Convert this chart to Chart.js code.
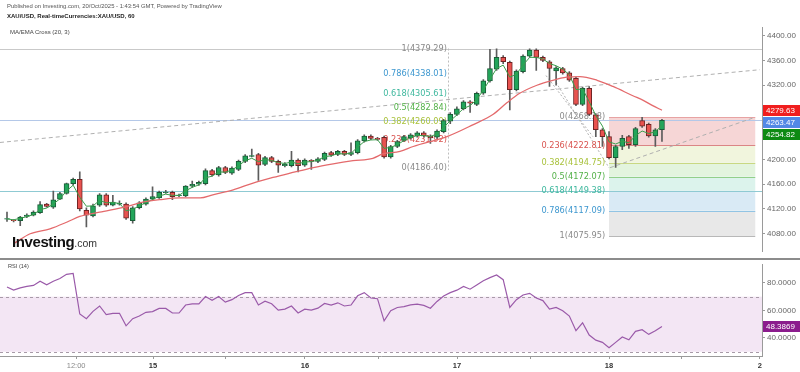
<!DOCTYPE html>
<html><head><meta charset="utf-8">
<script src="https://cdn.jsdelivr.net/npm/chart.js@4.4.1/dist/chart.umd.min.js"></script>
<style>
html,body{margin:0;padding:0;background:#fff}
body{width:800px;height:372px;overflow:hidden;position:relative;font-family:"Liberation Sans",Arial,sans-serif}
.box{position:absolute;left:0}
.t{position:absolute;white-space:nowrap;z-index:5}
</style></head><body>
<div class="t" style="left:7px;top:3px;font-size:5.9px;color:#555">Published on Investing.com, 20/Oct/2025 - 1:43:54 GMT, Powered by TradingView</div>
<div class="t" style="left:7px;top:13px;font-size:6px;font-weight:bold;color:#222">XAU/USD, Real-timeCurrencies:XAU/USD, 60</div>
<div class="t" style="left:10px;top:29px;font-size:6px;color:#444">MA/EMA Cross (20, 3)</div>
<div class="t" style="left:12px;top:233px;color:#111"><span style="font-size:15px;font-weight:bold;letter-spacing:-0.4px">Investing</span><span style="font-size:10.5px;color:#333">.com</span></div>
<div class="t" style="left:8px;top:263px;font-size:5.6px;color:#444">RSI (14)</div>
<div class="box" style="top:0;width:800px;height:258px"><canvas id="c1" width="800" height="258"></canvas></div>
<div class="box" style="top:258px;width:800px;height:114px"><canvas id="c2" width="800" height="114"></canvas></div>
<div class="t" style="left:0;top:258px;width:800px;height:2px;background:#8c8c8c"></div>
<script>
// ---------- data (hourly candles, index = candle number) ----------
const opens = [
4103.5,4101.5,4101,4108,4110,4114,4128,4123,4136,4145,
4161,4168,4118,4109,4126,4143,4126,4128,4128,4101,
4122,4128,4136,4138,4146.5,4147,4141.5,4141,4157,4160,
4161,4182,4175,4187,4178,4184,4197,4205,4208,4192,
4203,4197,4190,4190,4199,4191,4198.5,4197,4200,4211,
4208,4213,4208,4211,4230,4238,4234,4236,4204,4221,
4231,4235,4238,4243,4238,4236,4245,4262,4273,4282,
4293,4289,4307,4327,4346,4365,4357,4313,4342,4367,
4377,4365,4358,4343,4347,4340,4331,4289,4315,4272,
4248,4237,4203,4221,4237,4224,4263,4257,4238,4248];
const highs = [
4115,4103,4108,4112,4117,4132,4129,4149,4147,4162,
4170,4180,4122,4128,4145,4145,4142,4133,4130,4124,
4132,4138,4156,4149,4150,4149,4144,4158,4165,4165,
4185,4184,4189,4189,4188,4199,4208,4217,4210,4205,
4205,4199,4195,4213,4201,4201,4200,4203,4212,4213,
4215,4215,4227,4232,4240,4240,4236,4238,4223,4231,
4239,4242,4245,4245,4240,4248,4265,4276,4285,4295,
4295,4309,4329,4378,4379,4368,4359,4345,4369,4379,
4379,4367,4360,4350,4349,4342,4333,4317,4318,4274,
4250,4245,4223,4239,4239,4252,4268,4259,4250,4265];
const lows = [
4100,4099,4093,4106,4109,4113,4123,4121,4135,4144,
4159,4117,4091,4107,4124,4124,4125,4126,4103,4097,
4120,4126,4135,4137,4145,4135,4140,4140,4155,4158,
4159,4173,4173,4177,4176,4182,4195,4204,4166,4190,
4195,4179,4188,4188,4180,4189,4184,4195,4198,4205,
4206,4206,4206,4209,4228,4232,4231,4202,4202,4219,
4229,4233,4236,4236,4226,4234,4243,4258,4271,4280,
4276,4287,4305,4325,4344,4355,4280,4311,4340,4365,
4344,4358,4318,4320,4338,4326,4287,4287,4271,4237,
4221,4201,4187,4216,4218,4221,4252,4236,4221,4229];
const closes = [
4104.5,4101,4107,4110,4115,4127,4124,4135,4145,4161,
4168,4120,4110,4125,4143,4126,4131,4129,4105,4122,
4130,4136,4140,4147,4147.5,4140,4142.5,4157,4160,4163,
4182,4175,4187,4179,4186,4197,4206,4206.5,4191,4203,
4197,4191,4192,4199,4190,4199,4197,4201,4210,4207,
4213,4208,4211,4230,4238,4234,4232.5,4204,4221,4229,
4237,4240,4243,4238,4235,4246,4263,4273,4282,4293,
4291,4307,4327,4347,4365,4358,4313,4343,4367,4377,
4365,4360,4347,4348,4340,4328,4289,4315,4273,4248,
4237,4203,4221,4234,4224,4250,4254,4238,4248,4263.47];
const ema3 = [
4104,4102.5,4105,4107.5,4111,4119,4121.5,4128,4136.5,4149,
4158.5,4139,4124.5,4125,4134,4130,4130.5,4129,4117,4119.5,
4125,4130.5,4135,4141,4144,4142,4142,4149.5,4155,4159,
4170.5,4173,4180,4179.5,4183,4190,4198,4202,4196.5,4200,
4198.5,4195,4193.5,4196,4193,4196,4196.5,4199,4204.5,4206,
4209.5,4209,4210,4220,4229,4231.5,4232,4218,4219.5,4224,
4230.5,4235,4239,4238.5,4237,4241.5,4252,4262.5,4272,4282.5,
4287,4297,4312,4329.5,4347,4352.5,4333,4338,4352.5,4365,
4365,4362.5,4355,4351.5,4346,4337,4313,4314,4293.5,4271,
4254,4228.5,4225,4229.5,4227,4238.5,4246,4242,4245,4254.82];
const ma20Idx = [1,3.5,6.5,9.1,11,14,18.1,20.1,23.1,26.1,29.2,31.1,34.2,37.2,40.2,43.2,46.3,49.3,52.3,55.3,56.8,59.4,61.4,66.5,70.4,73.5,75.6,77.5,80.1,82.5,84.6,86.6,89.2,91.6,94.6,96.1,97.6,99];
const ma20Vals = [4064,4080,4088,4099,4108,4115,4124,4130,4135,4138,4138,4143,4151,4162,4171,4179,4187,4193,4198,4202,4209,4213,4221,4237,4256,4273,4292,4307,4320,4328,4333,4334,4328,4318,4303,4296,4287,4279.63];
const rsi14 = [
77.0,74.7,76.3,77.4,78.1,81.2,78.6,81.2,83.2,86.2,
86.9,57.4,54.0,59.3,63.2,57.0,57.9,57.9,48.8,54.0,
55.9,58.6,59.1,61.4,61.4,58.1,58.1,63.9,64.8,64.8,
70.1,67.4,70.1,66.0,67.8,70.8,72.9,72.9,63.9,66.7,
64.8,60.2,60.9,63.2,58.1,60.9,60.2,61.6,65.0,63.9,
65.5,63.2,63.9,70.6,72.9,69.0,68.5,52.4,59.8,62.1,
62.8,64.0,64.6,63.6,61.6,66.5,70.5,72.9,74.7,77.4,
75.4,78.5,81.5,83.8,85.7,82.3,62.1,67.8,71.2,72.4,
69.0,67.1,60.9,62.1,59.8,55.9,45.3,51.0,42.1,38.4,
36.8,32.9,36.8,40.7,38.6,44.8,46.0,42.6,45.3,48.3869];
const xTickPos = [10.45,22.07,45.04,68.02,91.0,113.8];
const xTickLabels = ['12:00','15','16','17','18','2'];
const xMinorPos = [33.1,56.1,79.1,102.0];
const priceTicks = [4080,4120,4160,4200,4240,4280,4320,4360,4400];
const rsiTicks = [40,60,80];
const fibRatios = ['0','0.236','0.382','0.5','0.618','0.786','1'];
const fibA = [4186.40,4231.92,4260.09,4282.84,4305.61,4338.01,4379.29];
const fibB = [4268.18,4222.81,4194.75,4172.07,4149.38,4117.09,4075.95];
const lastPrice = 4263.47, lastMA = 4279.63, lastEMA = 4254.82, lastRSI = 48.3869;
// drawing anchors (candle index, price)
const fibAAnchor = 66.6, fibALabelAt = 66.5;
const fibBStart = 91.0, fibBEnd = 113.1, fibBLabelAt = 90.4;
const trendLines = [
  {a:[-1.06,4227.5], b:[113.8,4345.1], dash:[4,3]},
  {a:[91.14,4186.7], b:[113.06,4268.2], dash:[4,3]},
  {a:[82.98,4324.7], b:[91.0,4186.7], dash:[2,2]},
  {a:[81.47,4335.7], b:[88.57,4236.9], dash:[2,2]}
];

// ---------- styling ----------
Chart.defaults.font.family = '"Liberation Sans", Arial, sans-serif';
Chart.defaults.animation = false;
const X_MIN = -1.058, X_MAX = 114.12;
const UP = '#22a55a', UP_B = '#1a5c37', DN = '#e8524f', DN_B = '#6e2323';
const levelText = ['#8a8a8a','#d9534f','#a9c23c','#52b047','#3fb89e','#3d97cf','#8a8a8a'];
const levelLine = ['#e7a3a3','#db8585','#c9d882','#92cf8a','#80cbc4','#92c4e4','#b8b8b8'];
const bandFill = ['#f6d6d6','#f1f5dd','#e3f4de','#dcf3ec','#d9eaf5','#e8e8e8'];

const idx = closes.map((_, i) => i);
const isUp = i => closes[i] >= opens[i];

function hline(ctx, x0, x1, y, col){
  const yy = Math.round(y) + 0.5;
  ctx.strokeStyle = col; ctx.lineWidth = 1; ctx.setLineDash([]);
  ctx.beginPath(); ctx.moveTo(x0, yy); ctx.lineTo(x1, yy); ctx.stroke();
}
function tag(ctx, yc, text, bg, x0, x1){
  ctx.fillStyle = bg; ctx.fillRect(x0, Math.round(yc - 5.5), x1 - x0, 11);
  ctx.fillStyle = '#fff'; ctx.font = '8px "Liberation Sans", Arial';
  ctx.textAlign = 'left'; ctx.textBaseline = 'middle';
  ctx.fillText(text, x0 + 3, yc + 0.5);
}

const mainOverlay = {
  id: 'mainOverlay',
  beforeDatasetsDraw(chart){
    const {ctx, chartArea: a, scales: {x, y}} = chart;
    const X = v => x.getPixelForValue(v), Y = v => y.getPixelForValue(v);
    ctx.save();
    ctx.beginPath(); ctx.rect(a.left, a.top, a.right - a.left, a.bottom - a.top); ctx.clip();
    const bx0 = X(fibBStart), bx1 = X(fibBEnd);
    for (let k = 0; k < 6; k++){
      ctx.fillStyle = bandFill[k];
      ctx.fillRect(bx0, Y(fibB[k]), bx1 - bx0, Y(fibB[k+1]) - Y(fibB[k]));
    }
    for (let k = 0; k < 7; k++) hline(ctx, bx0, bx1, Y(fibB[k]), levelLine[k]);
    hline(ctx, a.left, a.right, Y(fibA[6]), '#c9c9c9');
    hline(ctx, a.left, a.right, Y(fibB[4]), '#8fcad3');
    hline(ctx, a.left, a.right, Y(lastPrice), '#b4c8e8');
    ctx.strokeStyle = '#b0b0b0'; ctx.lineWidth = 1;
    for (const t of trendLines){
      ctx.setLineDash(t.dash);
      ctx.beginPath(); ctx.moveTo(X(t.a[0]), Y(t.a[1])); ctx.lineTo(X(t.b[0]), Y(t.b[1])); ctx.stroke();
    }
    ctx.setLineDash([2,2]); ctx.strokeStyle = '#bdbdbd';
    const vx = Math.round(X(fibAAnchor)) + 0.5;
    ctx.beginPath(); ctx.moveTo(vx, Y(fibA[6])); ctx.lineTo(vx, Y(fibA[0]) + 2); ctx.stroke();
    ctx.setLineDash([]);
    ctx.font = '8.2px "DejaVu Sans", Verdana, sans-serif';
    ctx.textAlign = 'right'; ctx.textBaseline = 'middle';
    const lxA = X(fibALabelAt), lxB = X(fibBLabelAt);
    for (let k = 0; k < 7; k++){
      ctx.fillStyle = levelText[k];
      ctx.fillText(fibRatios[k] + '(' + fibA[k].toFixed(2) + ')', lxA, Y(fibA[k]));
      ctx.fillText(fibRatios[k] + '(' + fibB[k].toFixed(2) + ')', lxB, Y(fibB[k]));
    }
    ctx.restore();
  },
  afterDraw(chart){
    const {ctx, chartArea: a, scales: {y}} = chart;
    const items = [[lastMA, '#f01e1e'], [lastPrice, '#5288e6'], [lastEMA, '#0d8a12']];
    let prevBottom = -1e9;
    ctx.save();
    for (const [v, col] of items){
      let yc = y.getPixelForValue(v);
      if (yc - 5.5 < prevBottom + 1) yc = prevBottom + 1 + 5.5;
      tag(ctx, yc, v.toFixed(2), col, a.right + 1, 800);
      prevBottom = yc + 5.5;
    }
    ctx.restore();
  }
};

const rsiOverlay = {
  id: 'rsiOverlay',
  beforeDatasetsDraw(chart){
    const {ctx, chartArea: a, scales: {y}} = chart;
    const y70 = y.getPixelForValue(70), y30 = y.getPixelForValue(30);
    ctx.save();
    ctx.fillStyle = '#f3e6f4';
    ctx.fillRect(a.left, y70, a.right - a.left, y30 - y70);
    ctx.strokeStyle = '#a89aa8'; ctx.lineWidth = 1; ctx.setLineDash([3,3]);
    for (const yy of [y70, y30]){
      ctx.beginPath(); ctx.moveTo(a.left, Math.round(yy) + 0.5); ctx.lineTo(a.right, Math.round(yy) + 0.5); ctx.stroke();
    }
    ctx.restore();
  },
  afterDraw(chart){
    const {ctx, chartArea: a, scales: {y}} = chart;
    ctx.save();
    tag(ctx, y.getPixelForValue(lastRSI), lastRSI.toFixed(4), '#8b1c8d', a.right + 1, 800);
    ctx.restore();
  }
};

const yAxisCommon = {
  position: 'right',
  grid: {drawOnChartArea: false, drawTicks: true, tickLength: 3, color: '#9a9a9a'},
  border: {display: true, color: '#9a9a9a'},
  afterFit: s => { s.width = 38; }
};

new Chart(document.getElementById('c1'), {
  data: {
    datasets: [
      {type: 'bar', label: 'wick', order: 4, grouped: false, barThickness: 1,
       data: idx.map(i => ({x: i, y: [lows[i], highs[i]]})),
       backgroundColor: '#5c5c5c', borderWidth: 0},
      {type: 'bar', label: 'body', order: 3, grouped: false, barThickness: 5,
       data: idx.map(i => ({x: i, y: [opens[i], closes[i]]})),
       backgroundColor: c => isUp(c.dataIndex) ? UP : DN,
       borderColor: c => isUp(c.dataIndex) ? UP_B : DN_B,
       borderWidth: 1, borderSkipped: false},
      {type: 'line', label: 'EMA 3', order: 2,
       data: idx.map(i => ({x: i, y: ema3[i]})),
       borderColor: '#3a9e4c', borderWidth: 1, pointRadius: 0, tension: 0},
      {type: 'line', label: 'MA 20', order: 1,
       data: ma20Idx.map((v, i) => ({x: v, y: ma20Vals[i]})),
       borderColor: '#e46a6c', borderWidth: 1.3, pointRadius: 0, cubicInterpolationMode: 'monotone'}
    ]
  },
  options: {
    responsive: false, maintainAspectRatio: false, devicePixelRatio: 1,
    layout: {padding: {top: 27, left: 0, right: 0, bottom: 0}},
    plugins: {legend: {display: false}, tooltip: {enabled: false}},
    scales: {
      x: {type: 'linear', display: false, min: X_MIN, max: X_MAX, offset: false},
      y: Object.assign({}, yAxisCommon, {
        type: 'linear', min: 4051.8, max: 4414.1,
        afterBuildTicks: s => { s.ticks = priceTicks.map(v => ({value: v})); },
        ticks: {callback: v => Number(v).toFixed(2), color: '#666', font: {size: 8}, padding: 2}
      })
    }
  },
  plugins: [mainOverlay]
});

const allX = xTickPos.map((v, i) => ({value: v, lab: xTickLabels[i]}))
  .concat(xMinorPos.map(v => ({value: v, lab: ''})))
  .sort((p, q) => p.value - q.value);

new Chart(document.getElementById('c2'), {
  type: 'line',
  data: {
    datasets: [{
      label: 'RSI 14', data: idx.map(i => ({x: i, y: rsi14[i]})),
      borderColor: '#9a5aa9', borderWidth: 1.2, pointRadius: 0, tension: 0
    }]
  },
  options: {
    responsive: false, maintainAspectRatio: false, devicePixelRatio: 1,
    layout: {padding: {top: 2, left: 0, right: 0, bottom: 0}},
    plugins: {legend: {display: false}, tooltip: {enabled: false}},
    scales: {
      x: {
        type: 'linear', min: X_MIN, max: X_MAX, offset: false,
        afterBuildTicks: s => { s.ticks = allX.map(t => ({value: t.value})); },
        afterFit: s => { s.height = 16; },
        grid: {drawOnChartArea: false, drawTicks: true, tickLength: 3, color: '#9a9a9a'},
        border: {display: true, color: '#9a9a9a'},
        ticks: {
          autoSkip: false, maxRotation: 0, padding: 2,
          callback: (v, i) => allX[i] ? allX[i].lab : '',
          color: c => (c.tick && allX[c.index] && allX[c.index].lab === '12:00') ? '#8a8a8a' : '#333',
          font: c => ({size: 7.5, weight: (allX[c.index] && allX[c.index].lab === '12:00') ? 'normal' : 'bold'})
        }
      },
      y: Object.assign({}, yAxisCommon, {
        type: 'linear', min: 26.9, max: 93.1,
        afterBuildTicks: s => { s.ticks = rsiTicks.map(v => ({value: v})); },
        ticks: {callback: v => Number(v).toFixed(4), color: '#666', font: {size: 8}, padding: 2}
      })
    }
  },
  plugins: [rsiOverlay]
});
</script>
</body></html>
